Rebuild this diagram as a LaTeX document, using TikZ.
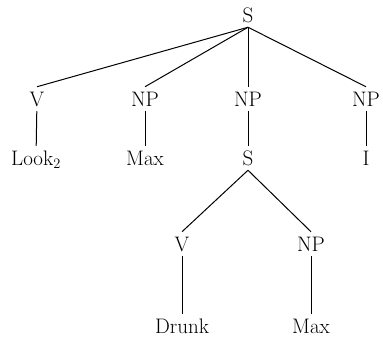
\documentclass[tikz,border=0pt]{standalone}
\begin{document}
\begin{tikzpicture}[x=1pt,y=-1pt,
  lab/.style={inner sep=0pt,outer sep=5pt,text height=14.5pt,text depth=0pt,font=\fontsize{21}{25}\selectfont},
  every path/.style={line width=1pt}]
\useasboundingbox (0,0) rectangle (383,337);
\node[lab] (S) at (248,15) {S};
\node[lab] (V) at (37,99) {V};
\node[lab] (NP1) at (145,99) {NP};
\node[lab] (NP2) at (248,99) {NP};
\node[lab] (NP3) at (366,99) {NP};
\node[lab] (Look) at (36,158) {Look$_2$};
\node[lab] (Max1) at (145,158) {Max};
\node[lab] (S2) at (248,158) {S};
\node[lab] (I) at (366,158) {I};
\node[lab] (V2) at (182,244) {V};
\node[lab] (NP4) at (311,244) {NP};
\node[lab] (Drunk) at (182,326) {Drunk};
\node[lab] (Max2) at (311,326) {Max};
\draw (S.south) -- (V.north);
\draw (S.south) -- (NP1.north);
\draw (S.south) -- (NP2.north);
\draw (S.south) -- (NP3.north);
\draw (V) -- (Look);
\draw (NP1) -- (Max1);
\draw (NP2) -- (S2);
\draw (NP3) -- (I);
\draw (S2.south) -- (V2.north);
\draw (S2.south) -- (NP4.north);
\draw (V2) -- (Drunk);
\draw (NP4) -- (Max2);
\end{tikzpicture}
\end{document}
